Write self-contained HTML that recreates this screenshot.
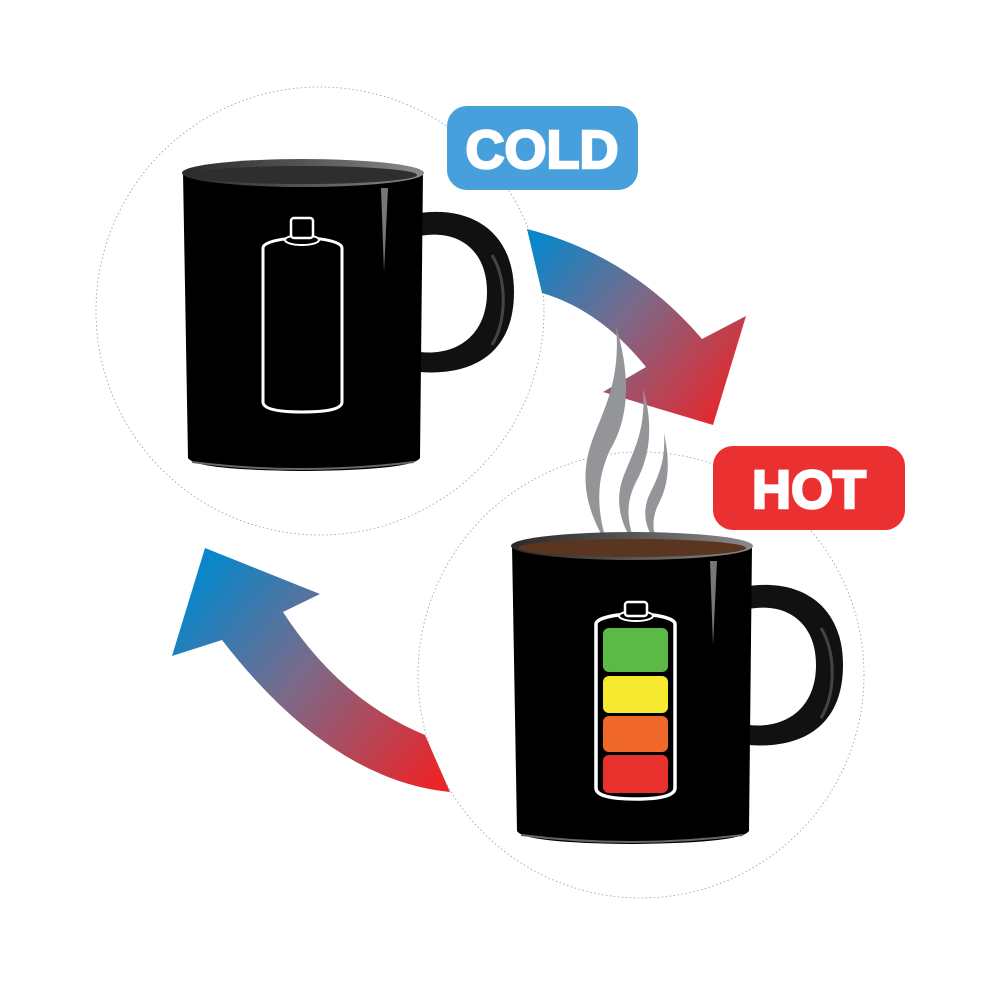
<!DOCTYPE html>
<html><head><meta charset="utf-8"><style>
html,body{margin:0;padding:0;background:#fff;}
svg{display:block;}
</style></head><body>
<svg width="1000" height="1000" viewBox="0 0 1000 1000" xmlns="http://www.w3.org/2000/svg">
<defs>
  <linearGradient id="ga" x1="530" y1="250" x2="730" y2="410" gradientUnits="userSpaceOnUse">
    <stop offset="0" stop-color="#0a86c9"/><stop offset="0.45" stop-color="#7a6a8a"/><stop offset="1" stop-color="#e8262a"/>
  </linearGradient>
  <linearGradient id="gb" x1="440" y1="770" x2="200" y2="580" gradientUnits="userSpaceOnUse">
    <stop offset="0" stop-color="#e8262a"/><stop offset="0.55" stop-color="#7a6a8a"/><stop offset="1" stop-color="#0a86c9"/>
  </linearGradient>
  <linearGradient id="rim" x1="0" y1="0" x2="1" y2="0">
    <stop offset="0" stop-color="#2a2a2a"/><stop offset="0.5" stop-color="#555"/><stop offset="1" stop-color="#8a8a8a"/>
  </linearGradient>
  <g id="mug">
    <path d="M420,213 C472,206 514,232 514,292 C514,354 472,376 420,372 L420,352 C456,356 487,336 487,292 C487,248 456,229 420,236 Z" fill="#111"/>
    <path d="M492,255 C507,280 507,320 492,345" stroke="#444" stroke-width="3" fill="none"/>
    <path d="M183,172 L423,172 L420,458 Q412,470 303,471 Q195,470 188,458 Z" fill="#000"/>
    <path d="M192,462 Q300,476 414,462" stroke="#666" stroke-width="2" fill="none"/>
    <path d="M381,188 L388,188 L384,272 Z" fill="#777"/>
    <ellipse cx="303" cy="173" rx="121" ry="14" fill="url(#rim)"/>
  </g>
</defs>

<circle cx="320" cy="311" r="224" fill="none" stroke="#999" stroke-width="0.8" stroke-dasharray="1.5 2.5"/>
<circle cx="641" cy="675" r="223" fill="#fff" stroke="#999" stroke-width="0.8" stroke-dasharray="1.5 2.5"/>

<path d="M527,229 Q630,255 702,339 L746,316 L713,425 L603,392 L646,367 Q600,310 542,293 Z" fill="url(#ga)"/>
<path d="M450,792 Q330,780 222,640 L172,656 L205,548 L320,594 L283,612 Q340,700 425,735 Z" fill="url(#gb)"/>

<use href="#mug"/>
<ellipse cx="303" cy="175" rx="114" ry="9" fill="#2e2e2e"/>
<path d="M263,248 A39,10 0 0 1 342,248 L342,402 Q342,412 302,412 Q263,412 263,402 Z" fill="#000" stroke="#fff" stroke-width="3"/>
<ellipse cx="302" cy="240" rx="17" ry="5" fill="#000" stroke="#fff" stroke-width="2"/>
<rect x="291" y="218" width="22" height="20" rx="3" fill="#000" stroke="#fff" stroke-width="2.5"/>

<g fill="#939598">
  <path d="M616,326 C632,380 628,420 610,450 C596,480 596,510 608,546 C592,520 580,490 588,455 C596,420 622,390 616,326 Z"/>
  <path d="M643,388 C655,430 648,460 636,482 C626,502 626,520 636,546 C620,525 614,500 624,475 C634,450 646,430 643,388 Z"/>
  <path d="M664,433 C672,470 666,490 658,505 C652,518 652,530 658,546 C646,530 642,515 648,498 C656,480 666,465 664,433 Z"/>
</g>

<g transform="translate(329,373)">
  <use href="#mug"/>
  <ellipse cx="303" cy="175" rx="114" ry="9" fill="#5a3520"/>
</g>
<path d="M596,624 A39.5,10 0 0 1 675,624 L675,788 Q675,799 636,799 Q596,799 596,788 Z" fill="#000" stroke="#fff" stroke-width="3.5"/>
<rect x="603" y="628" width="65" height="44" rx="6" fill="#5db946"/>
<rect x="603" y="676" width="65" height="37" rx="6" fill="#f7e92f"/>
<rect x="603" y="716" width="65" height="36" rx="6" fill="#f0672a"/>
<rect x="603" y="755" width="65" height="38" rx="6" fill="#e8302d"/>
<ellipse cx="636" cy="616" rx="17" ry="5" fill="#000" stroke="#fff" stroke-width="2"/>
<rect x="625" y="602" width="22" height="14" rx="3" fill="#000" stroke="#fff" stroke-width="2.5"/>

<rect x="447" y="106" width="191" height="84" rx="20" fill="#479fdb"/>
<text x="542" y="168" text-anchor="middle" font-family="Liberation Sans, sans-serif" font-weight="bold" font-size="54" fill="#fff" stroke="#fff" stroke-width="2.5">COLD</text>
<rect x="713" y="446" width="192" height="84" rx="20" fill="#ea3030"/>
<text x="809" y="508" text-anchor="middle" font-family="Liberation Sans, sans-serif" font-weight="bold" font-size="54" fill="#fff" stroke="#fff" stroke-width="2.5">HOT</text>
</svg>
</body></html>
